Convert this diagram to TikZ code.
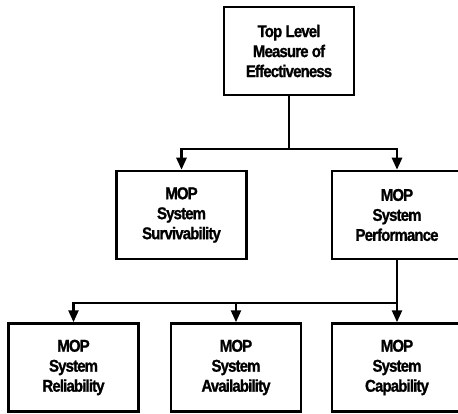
\documentclass[tikz,border=0pt]{standalone}
\usepackage{fontspec}
\setmainfont{Liberation Sans}[LetterSpace=-5, FakeStretch=0.88, FakeBold=1.2]
\usetikzlibrary{arrows.meta}
\tikzset{
  box/.style={draw=black, line width=2.5pt, fill=white, minimum width=130pt, minimum height=88pt,
    inner sep=0pt, align=center, font=\fontsize{17pt}{20pt}\selectfont\bfseries},
  conn/.style={line width=2.5pt, black},
  arr/.style={conn, -{Triangle[length=12pt, width=10pt]}},
}
\begin{document}
\begin{tikzpicture}[x=1pt, y=-1pt]
\useasboundingbox (0,0) rectangle (458,414);
\clip (0,0) rectangle (458,414);
\node[box] (top) at (289,51) {Top Level\\Measure of\\Effectiveness};
\node[box] (ml) at (181.5,215) {MOP\\System\\Survivability};
\node[box] (mr) at (397,215) {MOP\\System\\Performance};
\node[box] (bl) at (73.5,367.5) {MOP\\System\\Reliability};
\node[box] (bm) at (236,367.5) {MOP\\System\\Availability};
\node[box] (br) at (397,367.5) {MOP\\System\\Capability};
\coordinate (j1) at (289,149);
\coordinate (j2) at (397,303);
\draw[conn] (top.south) -- (j1);
\draw[arr] (j1) -| (ml.north);
\draw[arr] (j1) -| (mr.north);
\draw[arr] (mr.south) -- (br.north);
\draw[arr] (j2) -| (bl.north);
\draw[arr] (j2) -| (bm.north);
\end{tikzpicture}
\end{document}
